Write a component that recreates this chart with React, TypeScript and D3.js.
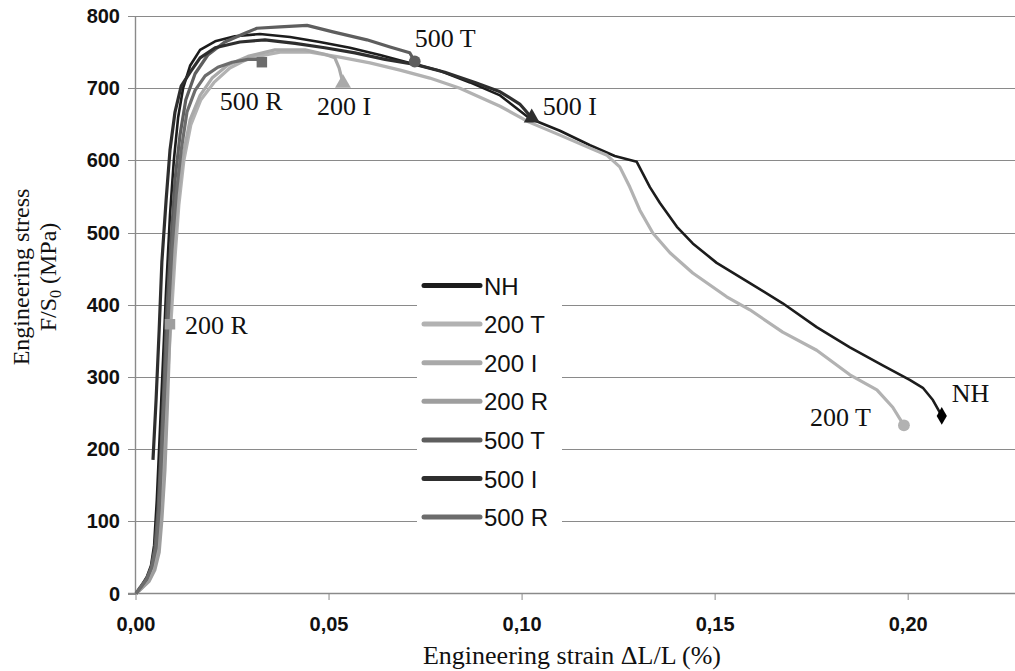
import * as d3 from 'd3'

// strain (-) vs engineering stress (MPa)
const nh: [number, number][] = [
  [0, 0], [0.0013, 10], [0.0028, 23], [0.0039, 39], [0.0047, 67], [0.0054, 130], [0.0062, 226],
  [0.007, 323], [0.0078, 420], [0.0088, 524], [0.0098, 600], [0.0109, 659], [0.0122, 700],
  [0.014, 731], [0.0166, 753], [0.0205, 765], [0.0256, 772], [0.0321, 775], [0.0399, 771],
  [0.0476, 764], [0.0554, 756], [0.0632, 746], [0.0709, 735], [0.0787, 724], [0.0865, 708],
  [0.0943, 690], [0.102, 658], [0.1098, 641], [0.1176, 621], [0.124, 606], [0.1297, 598],
  [0.1331, 563], [0.1357, 541], [0.1401, 508], [0.1442, 485], [0.1504, 458], [0.159, 430],
  [0.1675, 402], [0.1763, 369], [0.1849, 341], [0.1934, 316], [0.2004, 296], [0.2038, 285],
  [0.2064, 268], [0.2087, 246],
]
const s200T: [number, number][] = [
  [0, 0], [0.0016, 8], [0.0034, 19], [0.0047, 35], [0.0057, 60], [0.0065, 109], [0.0073, 192],
  [0.008, 282], [0.0091, 379], [0.0101, 465], [0.0111, 538], [0.0124, 600], [0.0142, 649],
  [0.0168, 684], [0.0202, 708], [0.0243, 728], [0.0295, 742], [0.0373, 750], [0.0451, 750],
  [0.0528, 743], [0.0606, 735], [0.0684, 725], [0.0761, 714], [0.0839, 700], [0.0943, 675],
  [0.1018, 653], [0.1098, 635], [0.1176, 617], [0.122, 607], [0.1253, 591], [0.1279, 563],
  [0.1305, 531], [0.1339, 499], [0.1383, 472], [0.1442, 444], [0.153, 411], [0.159, 393],
  [0.1675, 362], [0.1763, 337], [0.1849, 303], [0.1919, 282], [0.196, 258], [0.1989, 233],
]
const s200I: [number, number][] = [
  [0, 0], [0.0013, 8], [0.0031, 19], [0.0044, 35], [0.0054, 60], [0.0062, 109], [0.007, 192],
  [0.0078, 282], [0.0088, 379], [0.0098, 469], [0.0109, 545], [0.0122, 607], [0.014, 656],
  [0.0166, 690], [0.0197, 714], [0.0238, 732], [0.029, 744], [0.036, 753], [0.0438, 753],
  [0.0489, 747], [0.0515, 742], [0.0526, 728], [0.0536, 707],
]
const s200R: [number, number][] = [
  [0, 0], [0.0016, 8], [0.0034, 17], [0.0049, 33], [0.006, 57], [0.0067, 102], [0.0075, 171],
  [0.0081, 254], [0.0085, 316], [0.0088, 373],
]
const s500T: [number, number][] = [
  [0, 0], [0.001, 8], [0.0026, 19], [0.0039, 35], [0.0049, 63], [0.0057, 116], [0.0065, 199],
  [0.0073, 296], [0.008, 393], [0.0091, 490], [0.0101, 573], [0.0114, 635], [0.0129, 684],
  [0.0153, 720], [0.0186, 746], [0.023, 764], [0.0282, 776], [0.0313, 783], [0.0373, 785],
  [0.0443, 787], [0.051, 778], [0.0598, 767], [0.0658, 757], [0.0709, 749], [0.0722, 737],
]
const s500I: [number, number][] = [
  [0.0044, 185], [0.0052, 268], [0.006, 365], [0.0067, 459], [0.0078, 545], [0.0088, 614],
  [0.0101, 667], [0.0117, 703], [0.014, 722], [0.0166, 742], [0.0205, 756], [0.0269, 764],
  [0.0334, 767], [0.0412, 762], [0.0489, 756], [0.0567, 749], [0.0645, 740], [0.0723, 733],
  [0.08, 722], [0.0878, 708], [0.0943, 695], [0.0994, 678], [0.1025, 659],
]
const s500R: [number, number][] = [
  [0, 0], [0.0013, 9], [0.0028, 20], [0.0041, 37], [0.0052, 63], [0.006, 116], [0.0067, 199],
  [0.0075, 289], [0.0083, 379], [0.0093, 476], [0.0104, 552], [0.0117, 614], [0.0132, 667],
  [0.0153, 697], [0.0179, 717], [0.0212, 729], [0.0249, 736], [0.029, 740], [0.0313, 740],
  [0.0326, 736],
]

const names = ['NH', '200 T', '200 I', '200 R', '500 T', '500 I', '500 R']
const seriesData = [nh, s200T, s200I, s200R, s500T, s500I, s500R]
const colors = ['#1c1c1c', '#b2b2b2', '#a9a9a9', '#9e9e9e', '#5e5e5e', '#2e2e2e', '#6c6c6c']
const markerShapes = [d3.symbolDiamond, d3.symbolCircle, d3.symbolTriangle, d3.symbolSquare,
  d3.symbolCircle, d3.symbolTriangle, d3.symbolSquare]
// end-point label offsets (px)
const labelOffsets: [number, number][] = [[10, -14], [-94, 1], [-26, 32], [15, 10], [0, -14], [11, -3], [-42, 48]]

const xTicks = [0, 0.05, 0.1, 0.15, 0.2]
const yTicks = [0, 100, 200, 300, 400, 500, 600, 700, 800]

export default function App() {
  const x = d3.scaleLinear().domain([0, 0.23]).range([136, 1024])
  const y = d3.scaleLinear().domain([0, 800]).range([593.5, 16])
  const line = d3.line<[number, number]>().x(d => x(d[0])).y(d => y(d[1]))
  const fmt = (v: number) => v.toFixed(2).replace('.', ',')

  return (
    <svg width={1015} height={671} style={{ position: 'absolute', left: 0, top: 0, background: '#fff' }}>
      {/* grid */}
      {yTicks.filter(t => t > 0).map(t => (
        <line key={t} x1={136} x2={1015} y1={Math.round(y(t)) + 0.5} y2={Math.round(y(t)) + 0.5}
          stroke="#8a8a8a" strokeWidth={1.2} />
      ))}
      {/* axes */}
      <line x1={135.5} x2={135.5} y1={16} y2={594} stroke="#8a8a8a" strokeWidth={1.4} />
      <line x1={128} x2={1015} y1={593.5} y2={593.5} stroke="#8a8a8a" strokeWidth={1.4} />
      {yTicks.map(t => (
        <g key={t}>
          <line x1={128} x2={136} y1={Math.round(y(t)) + 0.5} y2={Math.round(y(t)) + 0.5} stroke="#8a8a8a" />
          <text x={120} y={y(t) + 7} textAnchor="end" fontFamily="Liberation Sans, Arial, sans-serif"
            fontWeight="bold" fontSize={20} fill="#111">{t}</text>
        </g>
      ))}
      {xTicks.map(t => (
        <g key={t}>
          <line x1={x(t)} x2={x(t)} y1={593.5} y2={600} stroke="#8a8a8a" />
          <text x={x(t)} y={631} textAnchor="middle" fontFamily="Liberation Sans, Arial, sans-serif"
            fontWeight="bold" fontSize={20} fill="#111">{fmt(t)}</text>
        </g>
      ))}
      {/* axis titles */}
      <text x={572} y={664} textAnchor="middle" fontFamily="Liberation Serif, Times New Roman, serif"
        fontSize={26} fill="#111">Engineering strain ΔL/L (%)</text>
      <g fontFamily="Liberation Serif, Times New Roman, serif" fontSize={24} fill="#111">
        <text transform="translate(29,277) rotate(-90)" textAnchor="middle">Engineering stress</text>
        <text transform="translate(56,277) rotate(-90)" textAnchor="middle">
          F/S<tspan fontSize={16} dy={5}>0</tspan><tspan dy={-5}> (MPa)</tspan>
        </text>
      </g>
      {/* curves */}
      {seriesData.map((d, i) => (
        <path key={names[i]} d={line(d) ?? ''} fill="none" stroke={colors[i]}
          strokeWidth={i === 0 ? 2.6 : 3.2} strokeLinejoin="round" />
      ))}
      {/* end markers and labels */}
      {seriesData.map((d, i) => {
        const last = d[d.length - 1]
        const cx = x(last[0])
        const cy = y(last[1])
        const sym = d3.symbol().type(markerShapes[i]).size(i === 0 ? 90 : 110)
        return (
          <g key={names[i]}>
            <path d={sym() ?? ''} transform={`translate(${cx},${cy})`} fill={i === 0 ? '#000' : colors[i]} />
            <text x={cx + labelOffsets[i][0]} y={cy + labelOffsets[i][1]}
              fontFamily="Liberation Serif, Times New Roman, serif" fontSize={26} fill="#111">{names[i]}</text>
          </g>
        )
      })}
      {/* legend */}
      <rect x={417} y={266} width={145} height={270} fill="#fff" />
      {names.map((n, i) => {
        const ly = 285.5 + i * 38.6
        return (
          <g key={n}>
            <line x1={424} x2={480} y1={ly} y2={ly} stroke={colors[i]} strokeWidth={5} strokeLinecap="round" />
            <text x={484} y={ly + 9} fontFamily="Liberation Sans, Arial, sans-serif" fontSize={24} fill="#111">{n}</text>
          </g>
        )
      })}
    </svg>
  )
}
